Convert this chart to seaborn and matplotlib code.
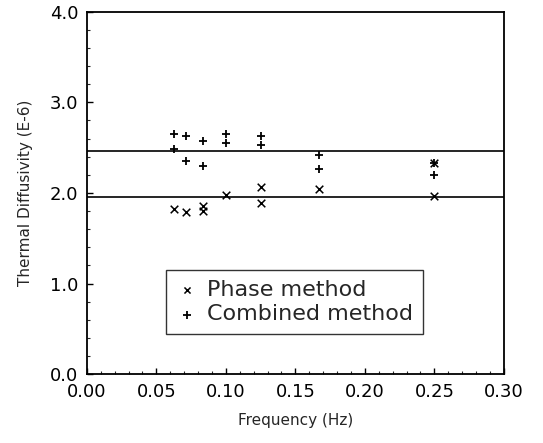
import pandas as pd
import seaborn as sns
import matplotlib.pyplot as plt
from matplotlib.ticker import MultipleLocator, FormatStrFormatter

# Frecuencias medidas (Hz)
phase_freq = [0.0625, 0.0714, 0.0833, 0.0833, 0.1, 0.125, 0.125, 0.1667, 0.25, 0.25]
phase_diff = [1.82, 1.79, 1.86, 1.80, 1.98, 2.06, 1.89, 2.04, 1.97, 2.33]

comb_freq = [0.0625, 0.0625, 0.0714, 0.0714, 0.0833, 0.0833, 0.1, 0.1,
             0.125, 0.125, 0.1667, 0.1667, 0.25, 0.25]
comb_diff = [2.65, 2.48, 2.63, 2.35, 2.57, 2.30, 2.65, 2.555,
             2.63, 2.53, 2.42, 2.26, 2.33, 2.20]

# Lineas de referencia (valores medios)
ref_levels = [2.46, 1.95]

x_ticks = [0.00, 0.05, 0.10, 0.15, 0.20, 0.25, 0.30]
y_ticks = [0.0, 1.0, 2.0, 3.0, 4.0]

phase = pd.DataFrame({"freq": phase_freq, "diff": phase_diff})
comb = pd.DataFrame({"freq": comb_freq, "diff": comb_diff})

sns.set_style("ticks")
plt.rcParams["font.family"] = ["DejaVu Sans"]

fig = plt.figure(figsize=(5.43, 4.43), dpi=100)
ax = fig.add_axes([0.160, 0.155, 0.768, 0.819])

sns.scatterplot(data=phase, x="freq", y="diff", marker="x", color="black",
                s=30, linewidth=1.1, label="Phase method", ax=ax)
sns.scatterplot(data=comb, x="freq", y="diff", marker="+", color="black",
                s=40, linewidth=1.3, label="Combined method", ax=ax)

for lvl in ref_levels:
    ax.axhline(lvl, color="black", linewidth=1.2)

ax.set_xlim(x_ticks[0], x_ticks[-1])
ax.set_ylim(y_ticks[0], y_ticks[-1])
ax.set_xticks(x_ticks)
ax.set_yticks(y_ticks)
ax.xaxis.set_major_formatter(FormatStrFormatter("%.2f"))
ax.yaxis.set_major_formatter(FormatStrFormatter("%.1f"))
ax.xaxis.set_minor_locator(MultipleLocator(0.01))
ax.yaxis.set_minor_locator(MultipleLocator(0.2))
ax.tick_params(which="major", direction="in", length=4, width=1, labelsize=13,
               colors="black", pad=6)
ax.tick_params(which="minor", direction="in", length=2, width=0.8)

for sp in ax.spines.values():
    sp.set_visible(True)
    sp.set_color("black")
    sp.set_linewidth(1.3)

ax.set_xlabel("Frequency (Hz)", fontsize=11, labelpad=9)
ax.set_ylabel("Thermal Diffusivity (E-6)", fontsize=11, labelpad=12)

leg = ax.legend(loc="lower left", bbox_to_anchor=(0.19, 0.11), borderaxespad=0,
                fontsize=16, frameon=True, fancybox=False, edgecolor="black",
                handletextpad=0.4, handlelength=1.0, borderpad=0.45,
                labelspacing=0.2, markerscale=0.8)
leg.get_frame().set_linewidth(1.0)

plt.savefig("out.png", dpi=100)
